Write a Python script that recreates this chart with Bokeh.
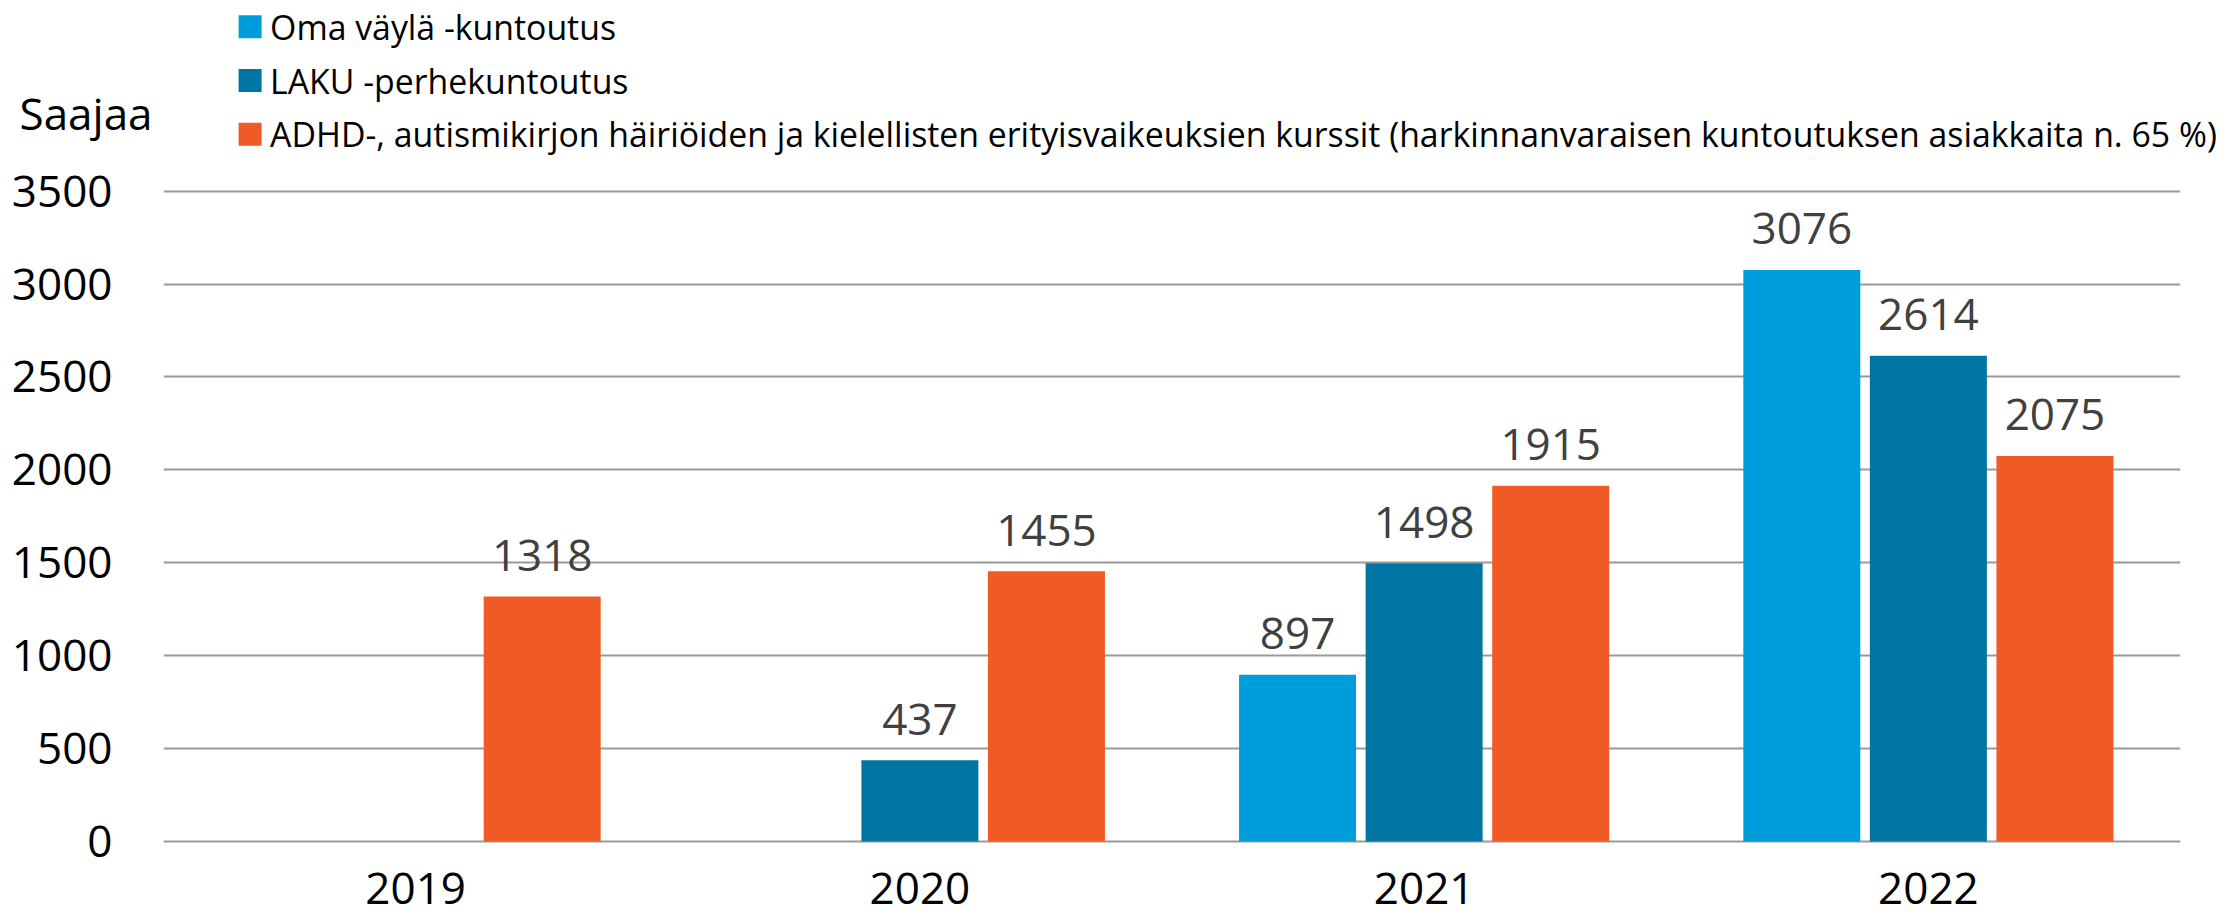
from bokeh.plotting import figure
from bokeh.layouts import column
from bokeh.models import ColumnDataSource, FactorRange, Range1d, FixedTicker
from bokeh.transform import dodge
from bokeh.core.properties import value
from bokeh.embed import file_html
from bokeh.resources import INLINE

# ---- data ----
years = ["2019", "2020", "2021", "2022"]
oma_vayla = [None, None, 897, 3076]
laku = [None, 437, 1498, 2614]
adhd = [1318, 1455, 1915, 2075]
series_names = [
    "Oma väylä -kuntoutus",
    "LAKU -perhekuntoutus",
    "ADHD-, autismikirjon häiriöiden ja kielellisten erityisvaikeuksien kurssit (harkinnanvaraisen kuntoutuksen asiakkaita n. 65 %)",
]
series_values = [oma_vayla, laku, adhd]
series_colors = ["#009DDC", "#0074A3", "#F05A25"]
y_ticks = [0, 500, 1000, 1500, 2000, 2500, 3000, 3500]
y_title = "Saajaa"

FONT = "Open Sans"
W, H = 2232, 916
HEADER_H = 160

# ---------------- header (y-axis title + legend) ----------------
hdr = figure(width=W, height=HEADER_H, x_range=Range1d(0, W), y_range=Range1d(HEADER_H, 0),
             output_backend="svg", toolbar_location=None,
             x_axis_location=None, y_axis_location=None,
             min_border=0, min_border_left=0, min_border_right=0,
             min_border_top=0, min_border_bottom=0)
hdr.frame_align = False
hdr.outline_line_color = None
hdr.grid.visible = False

hdr.text(x=[19], y=[112], text=[y_title], text_font=value(FONT), text_font_size="44px",
         text_color="#000000", text_align="left", text_baseline="alphabetic")

leg_x0, leg_y0, leg_pitch = 249.6, 26.3, 53.7
leg_y = [leg_y0 + i * leg_pitch for i in range(len(series_names))]
hdr.rect(x=[leg_x0] * len(series_names), y=leg_y, width=23, height=23,
         width_units="screen", height_units="screen",
         fill_color=series_colors, line_color=None)
hdr.text(x=[leg_x0 + 20] * len(series_names), y=leg_y, text=series_names,
         text_font=value(FONT), text_font_size="33.8px", text_color="#000000",
         text_align="left", text_baseline="alphabetic")

# ---------------- main chart ----------------
MAIN_H = H - HEADER_H
p = figure(
    x_range=FactorRange(*years, range_padding=0),
    y_range=Range1d(-403.7, 3665.2),
    width=W, height=MAIN_H,
    output_backend="svg", toolbar_location=None,
    x_axis_location=None,
    min_border_left=163, min_border_right=52,
    min_border_top=0, min_border_bottom=0,
    background_fill_color="white", border_fill_color="white",
)
p.frame_align = False
p.outline_line_color = None
for g in p.grid:
    if g.dimension == 0:
        g.visible = False
p.ygrid.grid_line_color = "#9A9A9A"
p.ygrid.grid_line_width = 2
p.yaxis.ticker = FixedTicker(ticks=y_ticks)
p.yaxis.axis_line_color = None
p.yaxis.major_tick_line_color = None
p.yaxis.minor_tick_line_color = None
p.yaxis.major_label_text_font = FONT
p.yaxis.major_label_text_font_size = "44px"
p.yaxis.major_label_text_color = "#000000"
p.yaxis.major_label_standoff = 45

offsets = [-0.251, 0.0, 0.251]
bar_width = 0.232
for name, vals, col, off in zip(series_names, series_values, series_colors, offsets):
    xs = [y for y, v in zip(years, vals) if v is not None]
    vs = [v for v in vals if v is not None]
    src = ColumnDataSource(dict(x=xs, top=vs, label=[str(v) for v in vs]))
    p.vbar(x=dodge("x", off, range=p.x_range), top="top", width=bar_width,
           source=src, fill_color=col, line_color=None)
    p.text(x=dodge("x", off, range=p.x_range), y="top", text="label", source=src,
           text_font=value(FONT), text_font_size="44px", text_color="#404040",
           text_align="center", text_baseline="alphabetic", y_offset=-41)

# category (year) labels under the baseline
ysrc = ColumnDataSource(dict(x=years, y=[0] * len(years), t=years))
p.text(x="x", y="y", text="t", source=ysrc, text_font=value(FONT),
       text_font_size="44px", text_color="#000000", text_align="center",
       text_baseline="alphabetic", y_offset=47)

layout = column(hdr, p)
open("out.html", "w").write(file_html(layout, INLINE))
